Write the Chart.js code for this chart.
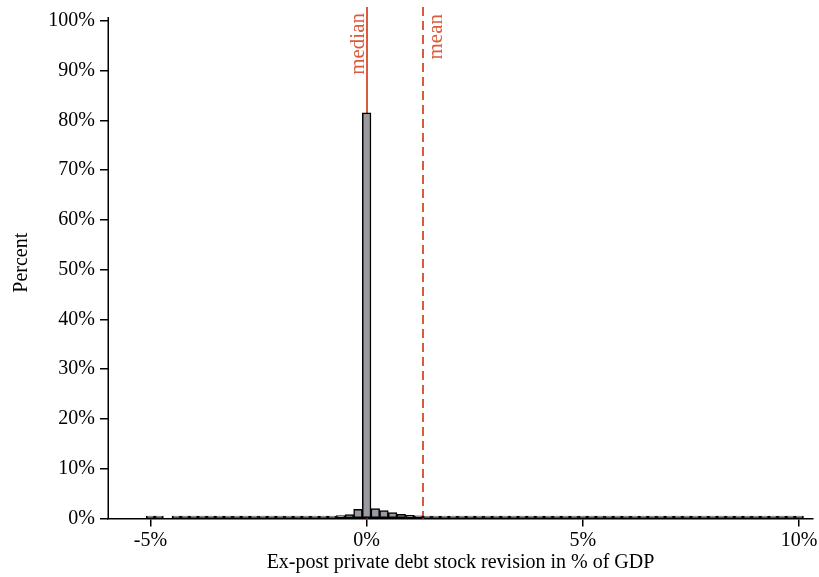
<!DOCTYPE html>
<html>
<head>
<meta charset="utf-8">
<script src="https://cdn.jsdelivr.net/npm/chart.js@4"></script>
<style>
html,body{margin:0;padding:0;background:#fff;}
#wrap{width:819px;height:577px;position:relative;}
</style>
</head>
<body>
<div id="wrap"><canvas id="c" width="819" height="577"></canvas></div>
<script>
// ---- data ----
const binCenters = [-5.0,-4.8,-4.6,-4.4,-4.2,-4.0,-3.8,-3.6,-3.4,-3.2,-3.0,-2.8,-2.6,-2.4,-2.2,-2.0,-1.8,-1.6,-1.4,-1.2,-1.0,-0.8,-0.6,-0.4,-0.2,
  0,
  0.2,0.4,0.6,0.8,1.0,1.2,1.4,1.6,1.8,2.0,2.2,2.4,2.6,2.8,3.0,3.2,3.4,3.6,3.8,4.0,4.2,4.4,4.6,4.8,5.0,5.2,5.4,5.6,5.8,6.0,6.2,6.4,6.6,6.8,7.0,7.2,7.4,7.6,7.8,8.0,8.2,8.4,8.6,8.8,9.0,9.2,9.4,9.6,9.8,10.0];
const percentValues = [0.15,0.12,null,0.1,0.1,0.08,0.08,0.1,0.05,0.08,0.1,0.1,0.08,0.1,0.1,0.08,0.1,0.12,0.15,0.25,0.35,0.45,0.6,0.8,1.85,
  81.5,
  2.0,1.6,1.2,0.85,0.65,0.55,0.45,0.35,0.5,0.5,0.25,0.2,0.15,0.15,0.12,0.12,0.1,0.12,0.1,0.1,0.08,0.1,0.05,0.08,0.05,0.05,0.1,0.1,0.08,0.1,0.08,0.1,0.05,0.08,0.1,0.08,0.1,0.08,0.1,0.08,0.1,0.05,0.1,0.08,0.1,0.1,0.08,0.1,0.1,0.15];
const xTickValues = [-5, 0, 5, 10];
const yTickValues = [0,10,20,30,40,50,60,70,80,90,100];
const medianValue = 0;
const meanValue = 1.31;
const xTitle = 'Ex-post private debt stock revision in % of GDP';
const yTitle = 'Percent';

const FONT = "'Liberation Serif', 'Times New Roman', serif";
const LINE_COLOR = '#dc5a3c';

const refLines = {
  id: 'refLines',
  beforeDatasetsDraw(chart) {
    const {ctx, chartArea, scales: {x, y}} = chart;
    ctx.save();
    // y axis line (only up to just above 100%)
    ctx.strokeStyle = '#000';
    ctx.lineWidth = 1.5;
    ctx.beginPath();
    ctx.moveTo(x.left + 0.25, y.getPixelForValue(0) + 0.75);
    ctx.lineTo(x.left + 0.25, y.getPixelForValue(100.75));
    ctx.stroke();
    // median line
    const mx = Math.round(x.getPixelForValue(medianValue));
    ctx.strokeStyle = LINE_COLOR;
    ctx.lineWidth = 2;
    ctx.beginPath();
    ctx.moveTo(mx, chartArea.top);
    ctx.lineTo(mx, y.getPixelForValue(0));
    ctx.stroke();
    // mean line dashed
    const ax = Math.round(x.getPixelForValue(meanValue));
    ctx.setLineDash([9, 5]);
    ctx.beginPath();
    ctx.moveTo(ax, chartArea.top);
    ctx.lineTo(ax, y.getPixelForValue(0));
    ctx.stroke();
    ctx.setLineDash([]);
    // labels
    ctx.fillStyle = LINE_COLOR;
    ctx.font = '21px ' + FONT;
    ctx.save();
    ctx.translate(mx - 3, chartArea.top + 6);
    ctx.rotate(-Math.PI / 2);
    ctx.textAlign = 'right';
    ctx.textBaseline = 'alphabetic';
    ctx.fillText('median', 0, 0);
    ctx.restore();
    ctx.save();
    ctx.translate(ax + 3, chartArea.top + 7);
    ctx.rotate(-Math.PI / 2);
    ctx.textAlign = 'right';
    ctx.textBaseline = 'top';
    ctx.fillText('mean', 0, 0);
    ctx.restore();
    ctx.restore();
  }
};

new Chart(document.getElementById('c'), {
  type: 'bar',
  data: {
    datasets: [{
      data: binCenters.map((c, i) => ({x: c, y: percentValues[i]})),
      backgroundColor: '#9b989f',
      borderColor: '#000',
      borderWidth: 1.5,
      barPercentage: 1,
      categoryPercentage: 1,
      minBarLength: 2.5,
      borderSkipped: false
    }]
  },
  options: {
    responsive: false,
    animation: false,
    devicePixelRatio: 1,
    layout: {padding: {top: 7, right: 6, left: 0, bottom: 0}},
    plugins: {legend: {display: false}, tooltip: {enabled: false}},
    scales: {
      x: {
        type: 'linear',
        min: -5.98,
        max: 10.32,
        offset: false,
        grid: {offset: false, drawOnChartArea: false, drawTicks: true, tickLength: 8, color: '#000', lineWidth: 1.5},
        border: {display: true, color: '#000', width: 1.5},
        afterBuildTicks: s => { s.ticks = xTickValues.map(v => ({value: v})); },
        afterFit: s => { s.height = 58.5; s.paddingLeft = 0; s.paddingRight = 0; },
        ticks: {color: '#000', font: {family: FONT, size: 20}, padding: 2, maxRotation: 0, autoSkip: false,
          callback: v => v + '%'},
        title: {display: true, text: xTitle, color: '#000', font: {family: FONT, size: 20}, padding: {top: 0, bottom: 2}}
      },
      y: {
        type: 'linear',
        min: 0,
        max: 102.75,
        grid: {drawOnChartArea: false, drawTicks: true, tickLength: 8, color: '#000', lineWidth: 1.5},
        border: {display: false},
        afterBuildTicks: s => { s.ticks = yTickValues.map(v => ({value: v})); },
        afterFit: s => { s.width = 108; s.paddingTop = 0; s.paddingBottom = 0; },
        ticks: {color: '#000', font: {family: FONT, size: 20}, padding: 5, autoSkip: false,
          callback: v => v + '%'},
        title: {display: true, text: yTitle, color: '#000', font: {family: FONT, size: 20}, padding: {top: 10, bottom: 0}}
      }
    }
  },
  plugins: [refLines]
});
</script>
</body>
</html>
